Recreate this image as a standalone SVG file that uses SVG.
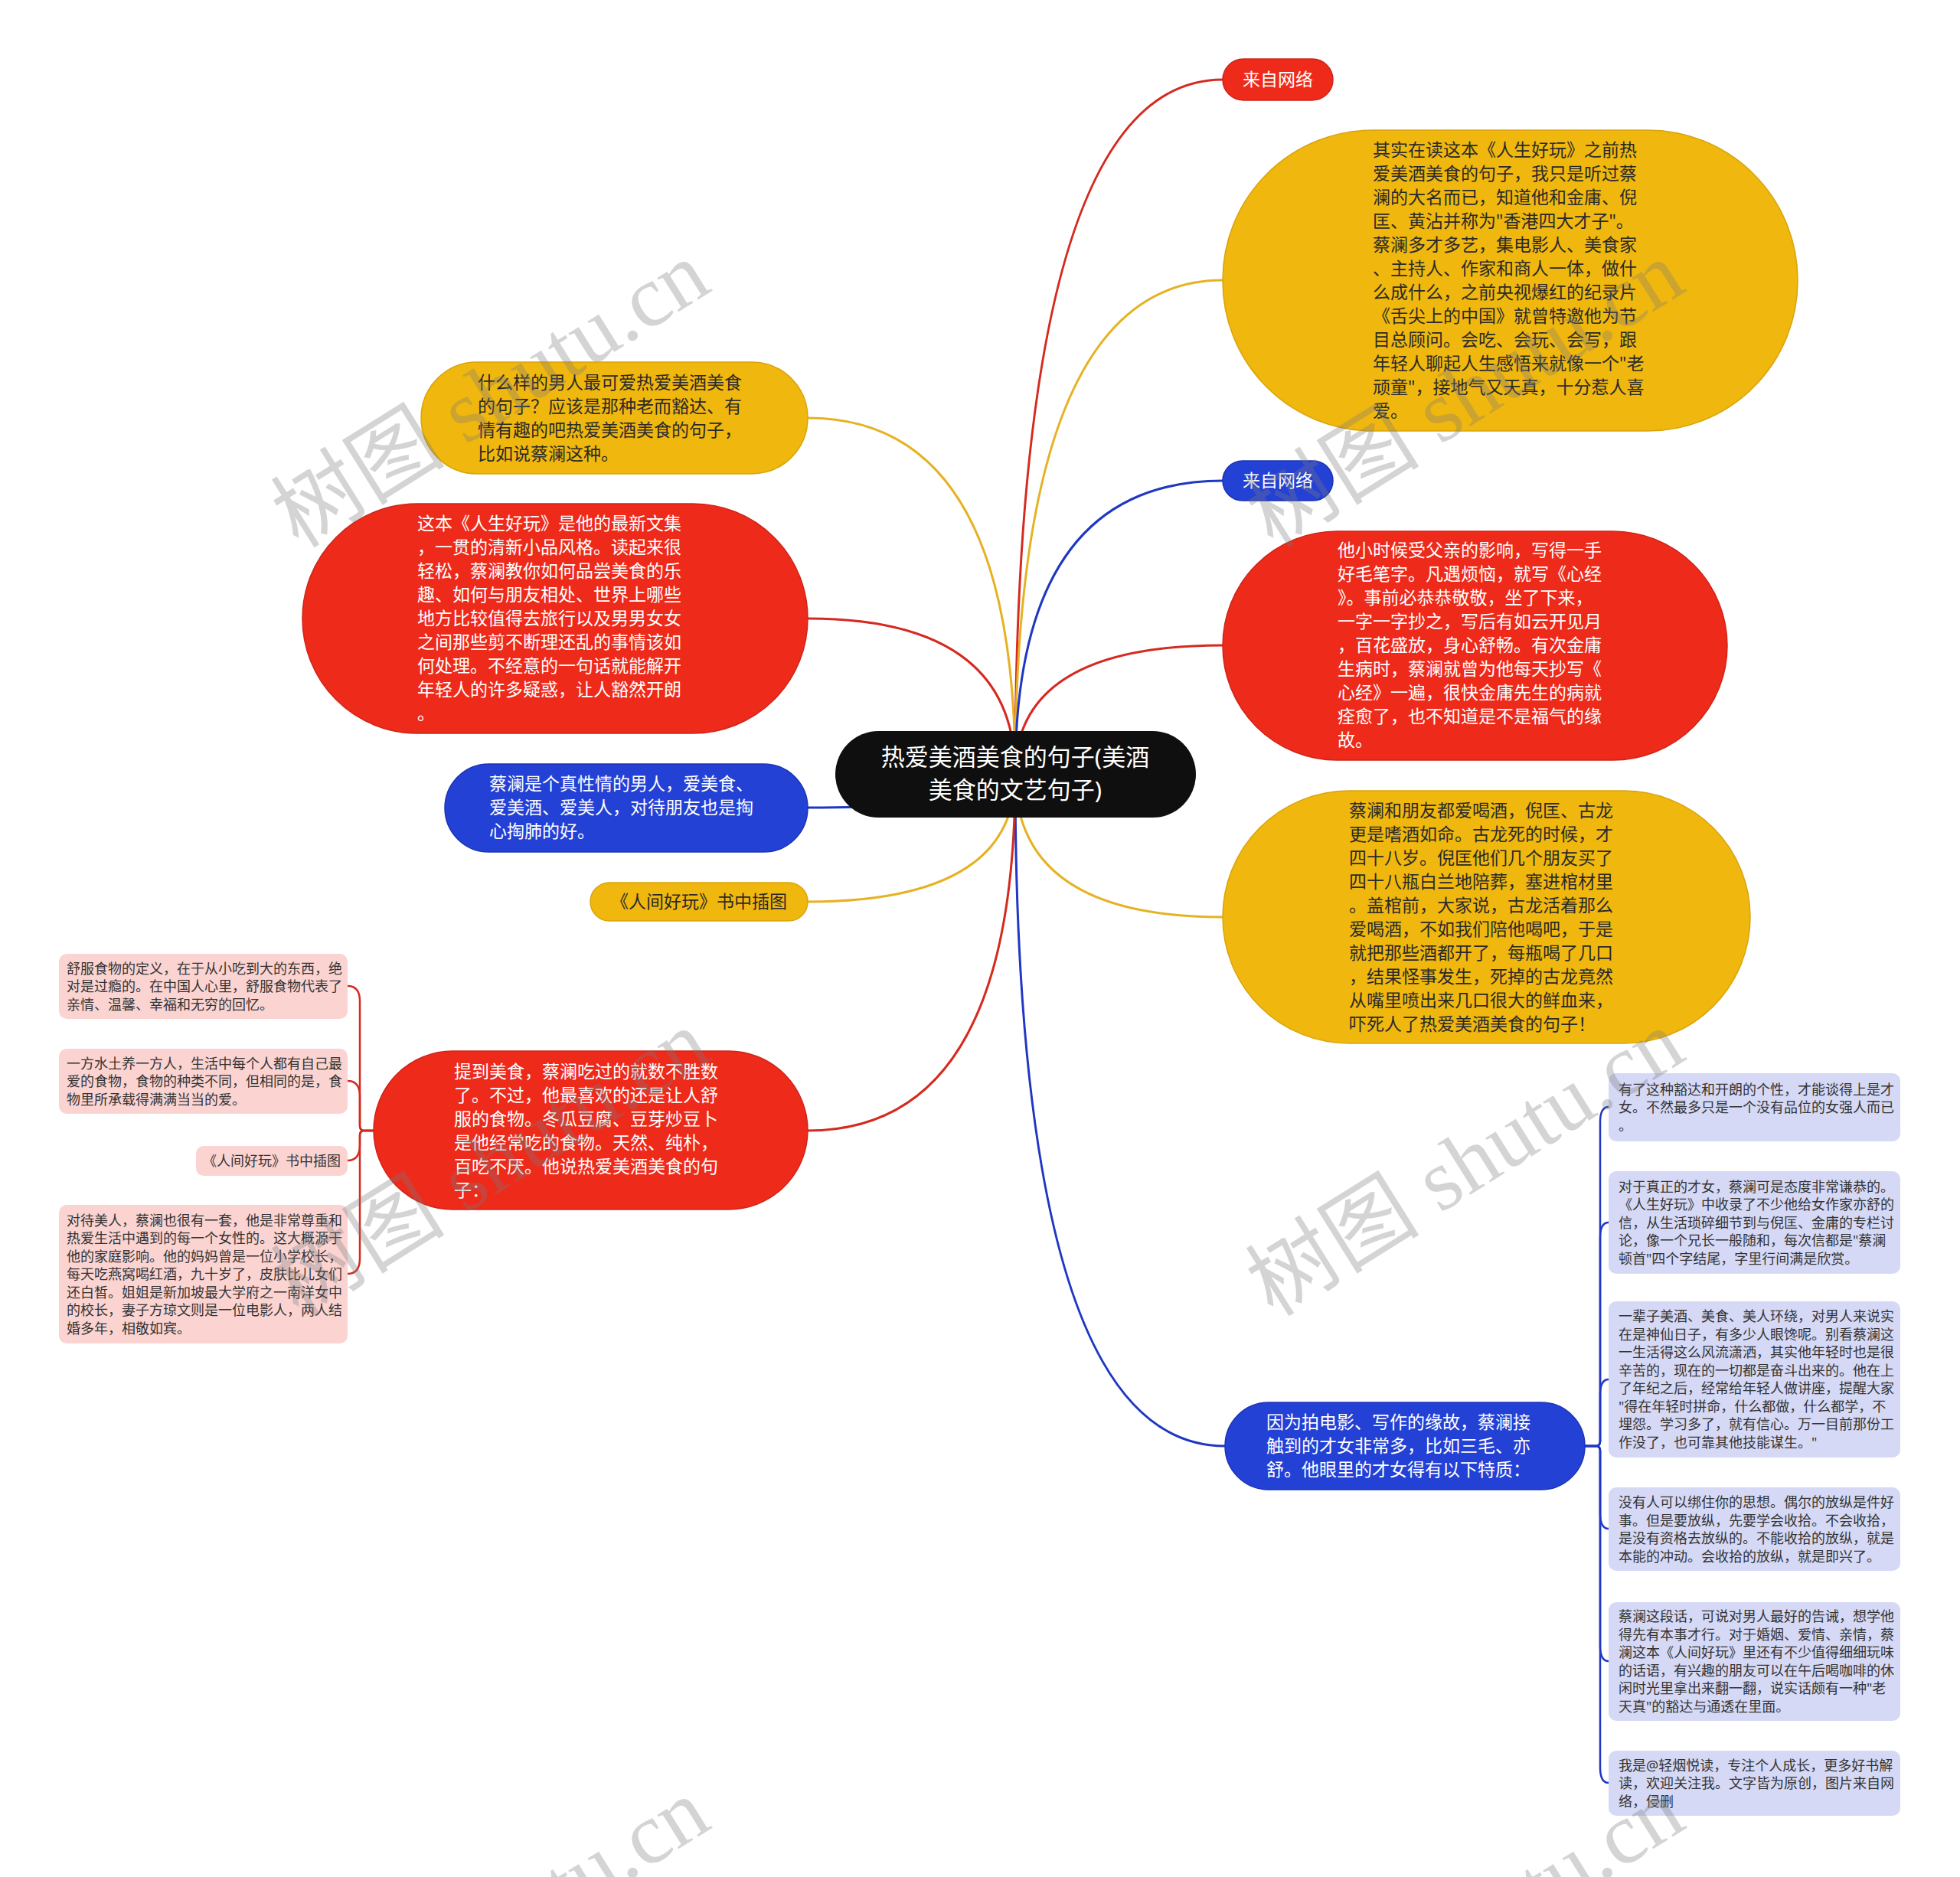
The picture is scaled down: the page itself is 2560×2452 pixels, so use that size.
<svg xmlns="http://www.w3.org/2000/svg" width="2560" height="2452" viewBox="0 0 2560 2452">
<style>
text{font-family:"Noto Sans","Noto Sans CJK SC",sans-serif}
.t{font-size:23px}
.s{font-size:18px;fill:#333}
.w{fill:#fff}
.d{fill:#2a2a2a}
.c{fill:none;stroke-width:3;stroke-linecap:round}
.b{fill:none;stroke-width:2.5;stroke-linecap:round}
.cr{stroke:#d52a1f}.cy{stroke:#e6b223}.cb{stroke:#1f37c2}
.nr{fill:#ee2a1b;stroke:#cf2418;stroke-width:1.5}
.ny{fill:#f0b70e;stroke:#d9a40b;stroke-width:1.5}
.nb{fill:#2441d6;stroke:#1c33b3;stroke-width:1.5}
.pk{fill:#fbd4d2}
.lv{fill:#d5d9f6}
.wm{font-family:"Liberation Serif","Noto Sans CJK SC",serif;font-size:114px;fill:#7a7a7a;fill-opacity:0.32}
</style>
<rect width="2560" height="2452" fill="#fff"/>
<g id="connectors">
<path class="c cr" d="M1326 1011 Q1326 104 1597 104"/>
<path class="c cy" d="M1326 1011 Q1326 366 1597 366"/>
<path class="c cb" d="M1326 1011 Q1326 628 1597 628"/>
<path class="c cr" d="M1326 1011 Q1326 843 1597 843"/>
<path class="c cy" d="M1326 1011 Q1326 1198 1597 1198"/>
<path class="c cb" d="M1326 1011 Q1326 1889 1600 1889"/>
<path class="c cy" d="M1326 1011 Q1326 546 1055 546"/>
<path class="c cr" d="M1326 1011 Q1326 808 1055 808"/>
<path class="c cb" d="M1326 1011 Q1326 1055 1055 1055"/>
<path class="c cy" d="M1326 1011 Q1326 1178 1055 1178"/>
<path class="c cr" d="M1326 1011 Q1326 1477 1055 1477"/>
<path class="b cb" d="M2070 1889 H2084 Q2090 1889 2090 1883 V1466 Q2090 1446 2101 1446"/>
<path class="b cb" d="M2070 1889 H2084 Q2090 1889 2090 1883 V1617 Q2090 1597 2101 1597"/>
<path class="b cb" d="M2070 1889 H2084 Q2090 1889 2090 1883 V1822 Q2090 1802 2101 1802"/>
<path class="b cb" d="M2070 1889 H2084 Q2090 1889 2090 1895 V1977 Q2090 1997 2101 1997"/>
<path class="b cb" d="M2070 1889 H2084 Q2090 1889 2090 1895 V2150 Q2090 2170 2101 2170"/>
<path class="b cb" d="M2070 1889 H2084 Q2090 1889 2090 1895 V2309 Q2090 2329 2101 2329"/>
<path class="b cr" d="M488 1477 H476 Q470 1477 470 1471 V1308 Q470 1288 454 1288"/>
<path class="b cr" d="M488 1477 H476 Q470 1477 470 1471 V1432 Q470 1412 454 1412"/>
<path class="b cr" d="M488 1477 H476 Q470 1477 470 1483 V1496 Q470 1516 454 1516"/>
<path class="b cr" d="M488 1477 H476 Q470 1477 470 1483 V1644 Q470 1664 454 1664"/>
</g>
<g id="center">
<rect x="1091" y="955" width="471" height="113" rx="56.5" fill="#0f0f0f"/>
<text font-size="31" fill="#fff" text-anchor="middle"><tspan x="1326" y="1000">热爱美酒美食的句子(美酒</tspan><tspan x="1326" y="1043">美食的文艺句子)</tspan></text>
</g>
<g id="n-wangluo-red">
<rect class="nr" x="1597" y="77" width="144" height="54" rx="27"/>
<text class="t w" x="1669" y="112" text-anchor="middle">来自网络</text>
</g>
<g id="n-qishi">
<rect class="ny" x="1597" y="170" width="751" height="393" rx="196"/>
<text class="t d"><tspan x="1793" y="204">其实在读这本《人生好玩》之前热</tspan><tspan x="1793" y="235">爱美酒美食的句子，我只是听过蔡</tspan><tspan x="1793" y="266">澜的大名而已，知道他和金庸、倪</tspan><tspan x="1793" y="297">匡、黄沾并称为"香港四大才子"。</tspan><tspan x="1793" y="328">蔡澜多才多艺，集电影人、美食家</tspan><tspan x="1793" y="359">、主持人、作家和商人一体，做什</tspan><tspan x="1793" y="390">么成什么，之前央视爆红的纪录片</tspan><tspan x="1793" y="421">《舌尖上的中国》就曾特邀他为节</tspan><tspan x="1793" y="452">目总顾问。会吃、会玩、会写，跟</tspan><tspan x="1793" y="483">年轻人聊起人生感悟来就像一个"老</tspan><tspan x="1793" y="514">顽童"，接地气又天真，十分惹人喜</tspan><tspan x="1793" y="545">爱。</tspan></text>
</g>
<g id="n-wangluo-blue">
<rect class="nb" x="1597" y="602" width="144" height="52" rx="26"/>
<text class="t w" x="1669" y="636" text-anchor="middle">来自网络</text>
</g>
<g id="n-xinjing">
<rect class="nr" x="1597" y="694" width="659" height="299" rx="149.5"/>
<text class="t w"><tspan x="1747" y="727">他小时候受父亲的影响，写得一手</tspan><tspan x="1747" y="758">好毛笔字。凡遇烦恼，就写《心经</tspan><tspan x="1747" y="789">》。事前必恭恭敬敬，坐了下来，</tspan><tspan x="1747" y="820">一字一字抄之，写后有如云开见月</tspan><tspan x="1747" y="851">，百花盛放，身心舒畅。有次金庸</tspan><tspan x="1747" y="882">生病时，蔡澜就曾为他每天抄写《</tspan><tspan x="1747" y="913">心经》一遍，很快金庸先生的病就</tspan><tspan x="1747" y="944">痊愈了，也不知道是不是福气的缘</tspan><tspan x="1747" y="975">故。</tspan></text>
</g>
<g id="n-gulong">
<rect class="ny" x="1597" y="1033" width="689" height="330" rx="165"/>
<text class="t d"><tspan x="1762" y="1067">蔡澜和朋友都爱喝酒，倪匡、古龙</tspan><tspan x="1762" y="1098">更是嗜酒如命。古龙死的时候，才</tspan><tspan x="1762" y="1129">四十八岁。倪匡他们几个朋友买了</tspan><tspan x="1762" y="1160">四十八瓶白兰地陪葬，塞进棺材里</tspan><tspan x="1762" y="1191">。盖棺前，大家说，古龙活着那么</tspan><tspan x="1762" y="1222">爱喝酒，不如我们陪他喝吧，于是</tspan><tspan x="1762" y="1253">就把那些酒都开了，每瓶喝了几口</tspan><tspan x="1762" y="1284">，结果怪事发生，死掉的古龙竟然</tspan><tspan x="1762" y="1315">从嘴里喷出来几口很大的鲜血来，</tspan><tspan x="1762" y="1346">吓死人了热爱美酒美食的句子！</tspan></text>
</g>
<g id="n-cainv">
<rect class="nb" x="1600" y="1832" width="470" height="114" rx="57"/>
<text class="t w"><tspan x="1654" y="1866">因为拍电影、写作的缘故，蔡澜接</tspan><tspan x="1654" y="1897">触到的才女非常多，比如三毛、亦</tspan><tspan x="1654" y="1928">舒。他眼里的才女得有以下特质：</tspan></text>
</g>
<g id="n-shenmeyang">
<rect class="ny" x="550" y="473" width="505" height="146" rx="73"/>
<text class="t d"><tspan x="624" y="508">什么样的男人最可爱热爱美酒美食</tspan><tspan x="624" y="539">的句子？应该是那种老而豁达、有</tspan><tspan x="624" y="570">情有趣的吧热爱美酒美食的句子，</tspan><tspan x="624" y="601">比如说蔡澜这种。</tspan></text>
</g>
<g id="n-zheben">
<rect class="nr" x="395" y="658" width="660" height="300" rx="150"/>
<text class="t w"><tspan x="545" y="692">这本《人生好玩》是他的最新文集</tspan><tspan x="545" y="723">，一贯的清新小品风格。读起来很</tspan><tspan x="545" y="754">轻松，蔡澜教你如何品尝美食的乐</tspan><tspan x="545" y="785">趣、如何与朋友相处、世界上哪些</tspan><tspan x="545" y="816">地方比较值得去旅行以及男男女女</tspan><tspan x="545" y="847">之间那些剪不断理还乱的事情该如</tspan><tspan x="545" y="878">何处理。不经意的一句话就能解开</tspan><tspan x="545" y="909">年轻人的许多疑惑，让人豁然开朗</tspan><tspan x="545" y="940">。</tspan></text>
</g>
<g id="n-zhenxingqing">
<rect class="nb" x="581" y="998" width="474" height="115" rx="57.5"/>
<text class="t w"><tspan x="639" y="1032">蔡澜是个真性情的男人，爱美食、</tspan><tspan x="639" y="1063">爱美酒、爱美人，对待朋友也是掏</tspan><tspan x="639" y="1094">心掏肺的好。</tspan></text>
</g>
<g id="n-chatu">
<rect class="ny" x="771" y="1153" width="284" height="50" rx="25"/>
<text class="t d" x="913" y="1186" text-anchor="middle">《人间好玩》书中插图</text>
</g>
<g id="n-meishi">
<rect class="nr" x="488" y="1373" width="567" height="207" rx="103.5"/>
<text class="t w"><tspan x="593" y="1408">提到美食，蔡澜吃过的就数不胜数</tspan><tspan x="593" y="1439">了。不过，他最喜欢的还是让人舒</tspan><tspan x="593" y="1470">服的食物。冬瓜豆腐、豆芽炒豆卜</tspan><tspan x="593" y="1501">是他经常吃的食物。天然、纯朴，</tspan><tspan x="593" y="1532">百吃不厌。他说热爱美酒美食的句</tspan><tspan x="593" y="1563">子：</tspan></text>
</g>
<g id="leaf-p1">
<rect class="pk" x="77" y="1246" width="377" height="85" rx="10"/>
<text class="s"><tspan x="87" y="1271.5">舒服食物的定义，在于从小吃到大的东西，绝</tspan><tspan x="87" y="1295">对是过瘾的。在中国人心里，舒服食物代表了</tspan><tspan x="87" y="1318.5">亲情、温馨、幸福和无穷的回忆。</tspan></text>
</g>
<g id="leaf-p2">
<rect class="pk" x="77" y="1370" width="377" height="85" rx="10"/>
<text class="s"><tspan x="87" y="1395.5">一方水土养一方人，生活中每个人都有自己最</tspan><tspan x="87" y="1419">爱的食物，食物的种类不同，但相同的是，食</tspan><tspan x="87" y="1442.5">物里所承载得满满当当的爱。</tspan></text>
</g>
<g id="leaf-p3">
<rect class="pk" x="256" y="1497" width="198" height="39" rx="10"/>
<text class="s" x="355" y="1523" text-anchor="middle">《人间好玩》书中插图</text>
</g>
<g id="leaf-p4">
<rect class="pk" x="77" y="1574" width="377" height="181" rx="10"/>
<text class="s"><tspan x="87" y="1600.5">对待美人，蔡澜也很有一套，他是非常尊重和</tspan><tspan x="87" y="1624">热爱生活中遇到的每一个女性的。这大概源于</tspan><tspan x="87" y="1647.5">他的家庭影响。他的妈妈曾是一位小学校长，</tspan><tspan x="87" y="1671">每天吃燕窝喝红酒，九十岁了，皮肤比儿女们</tspan><tspan x="87" y="1694.5">还白皙。姐姐是新加坡最大学府之一南洋女中</tspan><tspan x="87" y="1718">的校长，妻子方琼文则是一位电影人，两人结</tspan><tspan x="87" y="1741.5">婚多年，相敬如宾。</tspan></text>
</g>
<g id="leaf-l1">
<rect class="lv" x="2101" y="1402" width="381" height="89" rx="10"/>
<text class="s"><tspan x="2114" y="1429.5">有了这种豁达和开朗的个性，才能谈得上是才</tspan><tspan x="2114" y="1453">女。不然最多只是一个没有品位的女强人而已</tspan><tspan x="2114" y="1476.5">。</tspan></text>
</g>
<g id="leaf-l2">
<rect class="lv" x="2101" y="1530" width="381" height="134" rx="10"/>
<text class="s"><tspan x="2114" y="1556.5">对于真正的才女，蔡澜可是态度非常谦恭的。</tspan><tspan x="2114" y="1580">《人生好玩》中收录了不少他给女作家亦舒的</tspan><tspan x="2114" y="1603.5">信，从生活琐碎细节到与倪匡、金庸的专栏讨</tspan><tspan x="2114" y="1627">论，像一个兄长一般随和，每次信都是"蔡澜</tspan><tspan x="2114" y="1650.5">顿首"四个字结尾，字里行间满是欣赏。</tspan></text>
</g>
<g id="leaf-l3">
<rect class="lv" x="2101" y="1700" width="381" height="204" rx="10"/>
<text class="s"><tspan x="2114" y="1726">一辈子美酒、美食、美人环绕，对男人来说实</tspan><tspan x="2114" y="1749.5">在是神仙日子，有多少人眼馋呢。别看蔡澜这</tspan><tspan x="2114" y="1773">一生活得这么风流潇洒，其实他年轻时也是很</tspan><tspan x="2114" y="1796.5">辛苦的，现在的一切都是奋斗出来的。他在上</tspan><tspan x="2114" y="1820">了年纪之后，经常给年轻人做讲座，提醒大家</tspan><tspan x="2114" y="1843.5">"得在年轻时拼命，什么都做，什么都学，不</tspan><tspan x="2114" y="1867">埋怨。学习多了，就有信心。万一目前那份工</tspan><tspan x="2114" y="1890.5">作没了，也可靠其他技能谋生。"</tspan></text>
</g>
<g id="leaf-l4">
<rect class="lv" x="2101" y="1943" width="381" height="109" rx="10"/>
<text class="s"><tspan x="2114" y="1969">没有人可以绑住你的思想。偶尔的放纵是件好</tspan><tspan x="2114" y="1992.5">事。但是要放纵，先要学会收拾。不会收拾，</tspan><tspan x="2114" y="2016">是没有资格去放纵的。不能收拾的放纵，就是</tspan><tspan x="2114" y="2039.5">本能的冲动。会收拾的放纵，就是即兴了。</tspan></text>
</g>
<g id="leaf-l5">
<rect class="lv" x="2101" y="2093" width="381" height="155" rx="10"/>
<text class="s"><tspan x="2114" y="2118">蔡澜这段话，可说对男人最好的告诫，想学他</tspan><tspan x="2114" y="2141.5">得先有本事才行。对于婚姻、爱情、亲情，蔡</tspan><tspan x="2114" y="2165">澜这本《人间好玩》里还有不少值得细细玩味</tspan><tspan x="2114" y="2188.5">的话语，有兴趣的朋友可以在午后喝咖啡的休</tspan><tspan x="2114" y="2212">闲时光里拿出来翻一翻，说实话颇有一种"老</tspan><tspan x="2114" y="2235.5">天真"的豁达与通透在里面。</tspan></text>
</g>
<g id="leaf-l6">
<rect class="lv" x="2101" y="2287" width="381" height="85" rx="10"/>
<text class="s"><tspan x="2114" y="2312.5">我是@轻烟悦读，专注个人成长，更多好书解</tspan><tspan x="2114" y="2336">读，欢迎关注我。文字皆为原创，图片来自网</tspan><tspan x="2114" y="2359.5">络，侵删</tspan></text>
</g>
<g id="watermarks">
<text class="wm" text-anchor="middle" transform="translate(640 514) rotate(-32)" y="40">树图 shutu.cn</text>
<text class="wm" text-anchor="middle" transform="translate(1913 514) rotate(-32)" y="40">树图 shutu.cn</text>
<text class="wm" text-anchor="middle" transform="translate(640 1518) rotate(-32)" y="40">树图 shutu.cn</text>
<text class="wm" text-anchor="middle" transform="translate(1913 1518) rotate(-32)" y="40">树图 shutu.cn</text>
<text class="wm" text-anchor="middle" transform="translate(640 2522) rotate(-32)" y="40">树图 shutu.cn</text>
<text class="wm" text-anchor="middle" transform="translate(1913 2522) rotate(-32)" y="40">树图 shutu.cn</text>
</g>
</svg>
